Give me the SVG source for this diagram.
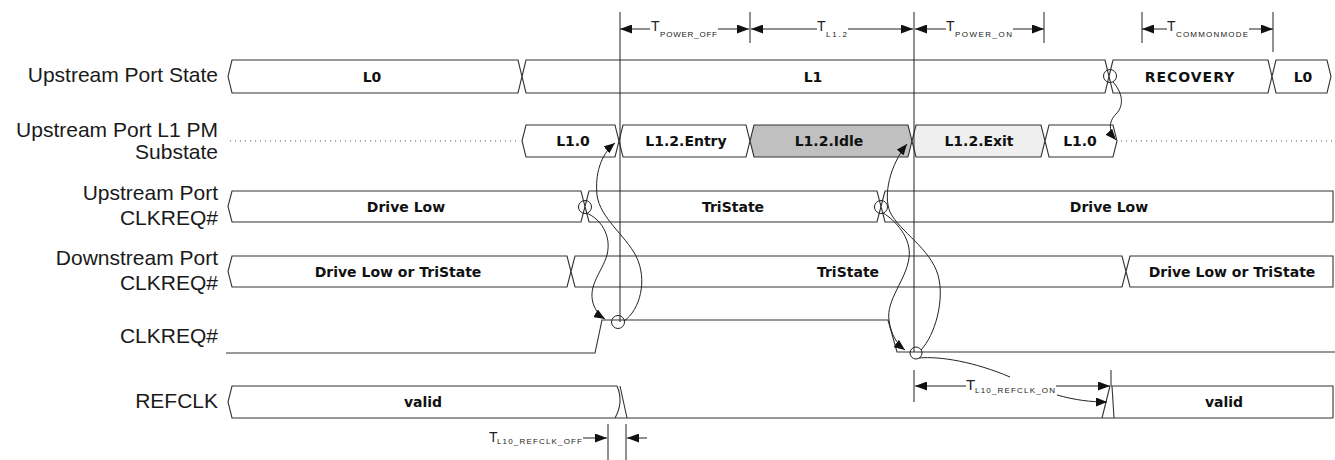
<svg xmlns="http://www.w3.org/2000/svg" width="1335" height="460" viewBox="0 0 1335 460">
<style>
.lbl{font-family:"Liberation Sans",Arial,sans-serif;font-size:21px;fill:#1a1a1a;text-anchor:end}
.bus{fill:#fff;stroke:#333;stroke-width:1.1}
.bt{font-family:"DejaVu Sans",Verdana,sans-serif;font-weight:bold;font-size:14px;fill:#111;text-anchor:middle}
.ln{fill:none;stroke:#333;stroke-width:1.1}
.dim{fill:none;stroke:#222;stroke-width:1}
.cur{fill:none;stroke:#222;stroke-width:1}
.T{font-family:"Liberation Sans",Arial,sans-serif;font-size:14px;fill:#222}
.sub{font-family:"Liberation Sans",Arial,sans-serif;font-size:8px;fill:#222}
.dot{fill:none;stroke:#555;stroke-width:1;stroke-dasharray:1 4}
</style>
<defs>
<marker id="ah" viewBox="0 0 12 9" refX="12" refY="4.5" markerWidth="12" markerHeight="9" markerUnits="userSpaceOnUse" orient="auto-start-reverse">
<path d="M0,0 L12,4.5 L0,9 z" fill="#111"/>
</marker>
<marker id="ac" viewBox="0 0 11 9" refX="11" refY="4.5" markerWidth="11" markerHeight="9" markerUnits="userSpaceOnUse" orient="auto">
<path d="M0,0 L11,4.5 L0,9 z" fill="#111"/>
</marker>
</defs>
<rect width="1335" height="460" fill="#fff"/>

<g id="upstream-port-state">
<text class="lbl" x="218" y="82">Upstream Port State</text>
<polygon class="bus" points="228,76.5 232,60 518,60 522,76.5 518,93 232,93"/>
<polygon class="bus" points="522,76.5 526,60 1105,60 1109,76.5 1105,93 526,93"/>
<polygon class="bus" points="1109,76.5 1113,60 1268,60 1272,76.5 1268,93 1113,93"/>
<polygon class="bus" points="1272,76.5 1276,60 1327,60 1331,76.5 1327,93 1276,93"/>
<text class="bt" x="372" y="81.5">L0</text>
<text class="bt" x="813" y="81.5">L1</text>
<text class="bt" x="1190" y="81.5" letter-spacing="1">RECOVERY</text>
<text class="bt" x="1303" y="81.5">L0</text>
</g>

<g id="l1-pm-substate">
<text class="lbl" x="218" y="137">Upstream Port L1 PM</text>
<text class="lbl" x="218" y="159">Substate</text>
<line class="dot" x1="230" y1="141" x2="520" y2="141"/>
<line class="dot" x1="1121" y1="141" x2="1335" y2="141"/>
<polygon class="bus" points="522,141 526,125 615,125 619,141 615,157 526,157"/>
<polygon class="bus" points="619,141 623,125 746,125 750,141 746,157 623,157"/>
<polygon class="bus" style="fill:#c0c0c0" points="750,141 754,125 908,125 912,141 908,157 754,157"/>
<polygon class="bus" style="fill:#efefef" points="912,141 916,125 1041,125 1045,141 1041,157 916,157"/>
<polygon class="bus" points="1045,141 1049,125 1113,125 1117,141 1113,157 1049,157"/>
<text class="bt" x="573" y="146">L1.0</text>
<text class="bt" x="686" y="146">L1.2.Entry</text>
<text class="bt" x="829" y="146">L1.2.Idle</text>
<text class="bt" x="979" y="146">L1.2.Exit</text>
<text class="bt" x="1080" y="146">L1.0</text>
</g>

<g id="upstream-clkreq">
<text class="lbl" x="218" y="200">Upstream Port</text>
<text class="lbl" x="218" y="225">CLKREQ#</text>
<polygon class="bus" points="228,206.5 232,191 581,191 585,206.5 581,222 232,222"/>
<polygon class="bus" points="585,206.5 589,191 877,191 881,206.5 877,222 589,222"/>
<polygon class="bus" points="881,206.5 885,191 1333,191 1333,222 885,222"/>
<text class="bt" x="406" y="211.5">Drive Low</text>
<text class="bt" x="733" y="211.5">TriState</text>
<text class="bt" x="1109" y="211.5">Drive Low</text>
</g>

<g id="downstream-clkreq">
<text class="lbl" x="218" y="265">Downstream Port</text>
<text class="lbl" x="218" y="290">CLKREQ#</text>
<polygon class="bus" points="228,271.5 232,256 567,256 571,271.5 567,287 232,287"/>
<polygon class="bus" points="571,271.5 575,256 1122,256 1126,271.5 1122,287 575,287"/>
<polygon class="bus" points="1126,271.5 1130,256 1333,256 1333,287 1130,287"/>
<text class="bt" x="398" y="276.5">Drive Low or TriState</text>
<text class="bt" x="848" y="276.5">TriState</text>
<text class="bt" x="1232" y="276.5">Drive Low or TriState</text>
</g>

<g id="clkreq">
<text class="lbl" x="218" y="343">CLKREQ#</text>
<polyline class="ln" points="226,353 595,353 602,320 888,320 897,352 1335,352"/>
</g>

<g id="refclk">
<text class="lbl" x="218" y="408">REFCLK</text>
<path class="ln" d="M617,386 L232,386 L228,402 L232,418 L1333,418"/>
<path class="ln" d="M617,386 Q624,402 615,418 M620,386 L627,418"/>
<path class="ln" d="M1333,418 L1333,386 L1111,386 M1110,386 L1102,418 M1112,386 L1114,418"/>
<text class="bt" x="423" y="407">valid</text>
<text class="bt" x="1224" y="407">valid</text>
</g>

<g id="timing">
<line class="dim" x1="620" y1="12" x2="620" y2="322"/>
<line class="dim" x1="914" y1="12" x2="914" y2="352"/>
<line class="dim" x1="750" y1="12" x2="750" y2="43"/>
<line class="dim" x1="1044" y1="12" x2="1044" y2="43"/>
<line class="dim" x1="1142" y1="12" x2="1142" y2="43"/>
<line class="dim" x1="1273" y1="12" x2="1273" y2="52"/>
<line class="dim" x1="650" y1="29" x2="620" y2="29" marker-end="url(#ah)"/>
<line class="dim" x1="718" y1="29" x2="749" y2="29" marker-end="url(#ah)"/>
<line class="dim" x1="817" y1="29" x2="751" y2="29" marker-end="url(#ah)"/>
<line class="dim" x1="848" y1="29" x2="913" y2="29" marker-end="url(#ah)"/>
<line class="dim" x1="946" y1="29" x2="915" y2="29" marker-end="url(#ah)"/>
<line class="dim" x1="1013" y1="29" x2="1044" y2="29" marker-end="url(#ah)"/>
<line class="dim" x1="1167" y1="29" x2="1142" y2="29" marker-end="url(#ah)"/>
<line class="dim" x1="1249" y1="29" x2="1273" y2="29" marker-end="url(#ah)"/>
<text class="T" x="651" y="31">T</text><text class="sub" x="660" y="37" textLength="57" lengthAdjust="spacing">POWER_OFF</text>
<text class="T" x="817" y="31">T</text><text class="sub" x="826" y="37" textLength="21" lengthAdjust="spacing">L1.2</text>
<text class="T" x="946" y="31">T</text><text class="sub" x="955" y="37" textLength="57" lengthAdjust="spacing">POWER_ON</text>
<text class="T" x="1167" y="31">T</text><text class="sub" x="1176" y="37" textLength="72" lengthAdjust="spacing">COMMONMODE</text>

<line class="dim" x1="608" y1="424" x2="608" y2="460"/>
<line class="dim" x1="626" y1="424" x2="626" y2="460"/>
<line class="dim" x1="583" y1="438" x2="607" y2="438" marker-end="url(#ah)"/>
<line class="dim" x1="647" y1="438" x2="627" y2="438" marker-end="url(#ah)"/>
<text class="T" x="489" y="442">T</text><text class="sub" x="497" y="444" textLength="85" lengthAdjust="spacing">L10_REFCLK_OFF</text>

<line class="dim" x1="914" y1="370" x2="914" y2="402"/>
<line class="dim" x1="1111" y1="370" x2="1111" y2="386"/>
<line class="dim" x1="966" y1="386" x2="915" y2="386" marker-end="url(#ah)"/>
<line class="dim" x1="1056" y1="386" x2="1110" y2="386" marker-end="url(#ah)"/>
<text class="T" x="966" y="390" style="font-size:15px">T</text><text class="sub" x="975" y="393" textLength="80" lengthAdjust="spacing">L10_REFCLK_ON</text>
</g>

<g id="connectors">
<circle class="cur" cx="585" cy="207" r="6.5"/>
<circle class="cur" cx="881" cy="207" r="6.5"/>
<circle class="cur" cx="1110" cy="76" r="6.5"/>
<circle class="cur" cx="618" cy="322" r="6.5"/>
<circle class="cur" cx="916" cy="353" r="6"/>
<path class="cur" d="M586,213 C600,218 612,235 607,255 C602,272 588,285 593,303 C596,312 600,316 605,319" marker-end="url(#ac)"/>
<path class="cur" d="M624,321 C640,310 648,280 636,256 C625,235 600,218 597,195 C595,175 600,155 615,143" marker-end="url(#ac)"/>
<path class="cur" d="M883,213 C895,220 912,238 909,258 C906,280 886,300 889,320 C891,335 897,344 905,350" marker-end="url(#ac)"/>
<path class="cur" d="M921,350 C935,335 945,300 938,275 C930,248 900,232 890,212 C883,195 890,165 907,144" marker-end="url(#ac)"/>
<path class="cur" d="M1113,82 C1122,92 1125,105 1116,114 C1108,122 1109,132 1116,140" marker-end="url(#ac)"/>
<path class="cur" d="M919,358 C940,356 975,362 1010,377"/>
<path class="cur" d="M1057,395 C1075,400 1090,402 1107,402" marker-end="url(#ac)"/>
</g>
</svg>
